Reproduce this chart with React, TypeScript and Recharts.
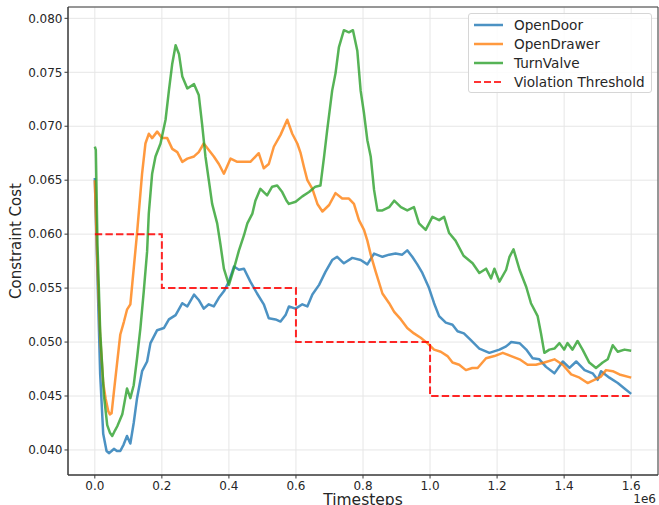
import {
  CartesianGrid,
  Customized,
  Legend,
  Line,
  LineChart,
  ReferenceArea,
  XAxis,
  YAxis
} from "recharts";

// timesteps in millions (axis carries the 1e6 offset label), constraint cost
const openDoor: [number, number][] = [
  [0, 0.0652], [0.008, 0.056], [0.016, 0.047], [0.025, 0.0415], [0.035, 0.0399],
  [0.042, 0.0397], [0.05, 0.0399], [0.057, 0.0401], [0.066, 0.0399], [0.076, 0.0399],
  [0.086, 0.0405], [0.096, 0.0413], [0.106, 0.0406], [0.116, 0.0425], [0.126, 0.0448],
  [0.141, 0.0473], [0.156, 0.0482], [0.166, 0.0499], [0.176, 0.0505], [0.186, 0.0511],
  [0.206, 0.0513], [0.221, 0.0521], [0.241, 0.0525], [0.261, 0.0536], [0.276, 0.0533],
  [0.296, 0.0544], [0.31, 0.0539], [0.325, 0.0531], [0.34, 0.0535], [0.355, 0.0533],
  [0.37, 0.0541], [0.385, 0.0547], [0.4, 0.0556], [0.415, 0.057], [0.43, 0.0567],
  [0.445, 0.0568], [0.464, 0.0556], [0.484, 0.0545], [0.504, 0.0535], [0.519, 0.0522],
  [0.539, 0.0521], [0.554, 0.0519], [0.569, 0.0525], [0.579, 0.0533], [0.599, 0.0531],
  [0.619, 0.0535], [0.634, 0.0533], [0.649, 0.0544], [0.669, 0.0553], [0.688, 0.0565],
  [0.708, 0.0576], [0.723, 0.0579], [0.743, 0.0573], [0.768, 0.0578], [0.793, 0.0576],
  [0.813, 0.0572], [0.833, 0.0582], [0.858, 0.0579], [0.878, 0.0581], [0.897, 0.0582],
  [0.917, 0.0581], [0.932, 0.0585], [0.947, 0.0579], [0.962, 0.0572], [0.977, 0.0564],
  [0.997, 0.055], [1.012, 0.0536], [1.027, 0.0524], [1.047, 0.0518], [1.067, 0.0516],
  [1.082, 0.051], [1.101, 0.0508], [1.121, 0.0502], [1.147, 0.0494], [1.177, 0.049],
  [1.207, 0.0493], [1.227, 0.0496], [1.242, 0.05], [1.267, 0.0499], [1.287, 0.0493],
  [1.306, 0.0485], [1.326, 0.0484], [1.346, 0.0477], [1.371, 0.0471], [1.396, 0.0482],
  [1.416, 0.0476], [1.436, 0.0482], [1.461, 0.0474], [1.485, 0.0471], [1.5, 0.0465],
  [1.51, 0.0473], [1.535, 0.0467], [1.56, 0.0462], [1.58, 0.0457], [1.6, 0.0452]
];

const openDrawer: [number, number][] = [
  [0, 0.065], [0.008, 0.057], [0.016, 0.0505], [0.025, 0.0462], [0.032, 0.0448],
  [0.04, 0.0436], [0.045, 0.0433], [0.05, 0.0434], [0.057, 0.0454], [0.067, 0.0482],
  [0.076, 0.0507], [0.087, 0.0519], [0.096, 0.053], [0.106, 0.0535], [0.116, 0.0568],
  [0.126, 0.0601], [0.141, 0.0656], [0.151, 0.0684], [0.161, 0.0693], [0.171, 0.0689],
  [0.186, 0.0695], [0.201, 0.0689], [0.216, 0.0689], [0.231, 0.0679], [0.246, 0.0676],
  [0.261, 0.0667], [0.276, 0.067], [0.296, 0.0672], [0.31, 0.0676], [0.325, 0.0684],
  [0.34, 0.0678], [0.355, 0.0672], [0.37, 0.0665], [0.385, 0.0656], [0.405, 0.067],
  [0.425, 0.0667], [0.445, 0.0667], [0.464, 0.0667], [0.489, 0.0675], [0.504, 0.0661],
  [0.519, 0.0665], [0.534, 0.0681], [0.554, 0.0692], [0.574, 0.0706], [0.589, 0.0693],
  [0.604, 0.0684], [0.614, 0.0675], [0.624, 0.0662], [0.634, 0.065], [0.649, 0.0642],
  [0.664, 0.0628], [0.679, 0.0621], [0.699, 0.0627], [0.718, 0.0638], [0.738, 0.0633],
  [0.758, 0.0633], [0.773, 0.0628], [0.788, 0.0613], [0.803, 0.0604], [0.813, 0.0594],
  [0.823, 0.0581], [0.838, 0.0565], [0.858, 0.0545], [0.878, 0.0536], [0.893, 0.0528],
  [0.913, 0.0521], [0.932, 0.0513], [0.952, 0.0508], [0.972, 0.0504], [0.992, 0.0499],
  [1.012, 0.0493], [1.032, 0.0491], [1.052, 0.0487], [1.067, 0.0481], [1.087, 0.0479],
  [1.107, 0.0474], [1.126, 0.0476], [1.142, 0.0476], [1.167, 0.0485], [1.192, 0.0487],
  [1.217, 0.049], [1.242, 0.0487], [1.267, 0.0484], [1.291, 0.0479], [1.316, 0.0479],
  [1.341, 0.0481], [1.371, 0.0484], [1.396, 0.0479], [1.421, 0.047], [1.446, 0.0467],
  [1.47, 0.0462], [1.49, 0.0465], [1.51, 0.0468], [1.525, 0.0474], [1.545, 0.0473],
  [1.565, 0.047], [1.6, 0.0467]
];

const turnValve: [number, number][] = [
  [0, 0.0681], [0.003, 0.0678], [0.008, 0.059], [0.016, 0.051], [0.027, 0.0451],
  [0.037, 0.0423], [0.045, 0.0416], [0.052, 0.0413], [0.06, 0.0418], [0.067, 0.0422],
  [0.082, 0.0433], [0.096, 0.0457], [0.106, 0.0448], [0.116, 0.046], [0.126, 0.0485],
  [0.136, 0.0513], [0.146, 0.0547], [0.156, 0.0584], [0.161, 0.0619], [0.171, 0.0656],
  [0.181, 0.0672], [0.196, 0.0684], [0.211, 0.0706], [0.221, 0.0733], [0.231, 0.0758],
  [0.241, 0.0775], [0.251, 0.0767], [0.261, 0.0746], [0.276, 0.0735], [0.296, 0.0739],
  [0.31, 0.0729], [0.32, 0.0702], [0.33, 0.0672], [0.34, 0.065], [0.35, 0.0628],
  [0.365, 0.061], [0.375, 0.059], [0.385, 0.0568], [0.4, 0.0553], [0.415, 0.0568],
  [0.43, 0.0585], [0.445, 0.0599], [0.455, 0.061], [0.47, 0.0619], [0.479, 0.0631],
  [0.494, 0.0642], [0.514, 0.0636], [0.529, 0.0644], [0.544, 0.0645], [0.559, 0.0639],
  [0.572, 0.0631], [0.579, 0.0628], [0.599, 0.063], [0.619, 0.0635], [0.639, 0.0639],
  [0.658, 0.0644], [0.673, 0.0645], [0.684, 0.0672], [0.693, 0.0696], [0.708, 0.0733],
  [0.718, 0.0749], [0.728, 0.0773], [0.743, 0.0789], [0.758, 0.0787], [0.77, 0.0789],
  [0.783, 0.077], [0.793, 0.0733], [0.803, 0.0712], [0.813, 0.0687], [0.823, 0.0672],
  [0.833, 0.0641], [0.843, 0.0622], [0.858, 0.0622], [0.878, 0.0625], [0.893, 0.0631],
  [0.913, 0.0625], [0.932, 0.0622], [0.952, 0.0625], [0.967, 0.061], [0.987, 0.0604],
  [1.007, 0.0616], [1.027, 0.0613], [1.042, 0.0616], [1.057, 0.0601], [1.076, 0.0594],
  [1.1, 0.058], [1.127, 0.0573], [1.147, 0.0564], [1.167, 0.0568], [1.182, 0.0559],
  [1.192, 0.0568], [1.207, 0.0556], [1.227, 0.0567], [1.237, 0.0579], [1.249, 0.0586],
  [1.267, 0.0567], [1.287, 0.0551], [1.301, 0.0536], [1.321, 0.0524], [1.331, 0.0508],
  [1.341, 0.049], [1.356, 0.0493], [1.371, 0.0494], [1.386, 0.0499], [1.4, 0.0493],
  [1.41, 0.0499], [1.425, 0.0493], [1.44, 0.0501], [1.455, 0.0493], [1.475, 0.0481],
  [1.495, 0.0476], [1.515, 0.0481], [1.53, 0.0484], [1.545, 0.0497], [1.56, 0.0491],
  [1.58, 0.0493], [1.6, 0.0492]
];

const thresholdSteps = [0, 0.2, 0.6, 1.0, 1.6];
const thresholdValues = [0.06, 0.055, 0.05, 0.045, 0.045];

const xTicks = [0, 0.2, 0.4, 0.6, 0.8, 1.0, 1.2, 1.4, 1.6];
const yTicks = [0.04, 0.045, 0.05, 0.055, 0.06, 0.065, 0.07, 0.075, 0.08];
const xDomain: [number, number] = [-0.08, 1.68];
const yDomain: [number, number] = [0.03768, 0.08105];

const FONT = "'DejaVu Sans', sans-serif";
const TEXT = "#262626";

const toRows = (pts: [number, number][]) => pts.map(([step, cost]) => ({ step, cost }));
const thresholdRows = thresholdSteps.map((step, i) => ({ step, cost: thresholdValues[i] }));

const legendItems = [
  { name: "OpenDoor", color: "#1f77b4", dash: undefined },
  { name: "OpenDrawer", color: "#ff7f0e", dash: undefined },
  { name: "TurnValve", color: "#2ca02c", dash: undefined },
  { name: "Violation Threshold", color: "#ff0000", dash: "7 3" }
];

function LegendBox() {
  return (
    <div
      style={{
        border: "1px solid #d6d6d6",
        borderRadius: 3,
        background: "rgba(255,255,255,0.85)",
        padding: "1px 6px 1px 5px",
        fontFamily: FONT,
        fontSize: 13.6,
        color: TEXT,
        boxSizing: "border-box",
        width: 184
      }}
    >
      {legendItems.map((it) => (
        <div key={it.name} style={{ display: "flex", alignItems: "center", height: 19 }}>
          <svg width={40} height={10} style={{ flex: "none" }}>
            <line
              x1={0}
              x2={29}
              y1={5}
              y2={5}
              stroke={it.color}
              strokeOpacity={0.8}
              strokeWidth={it.dash ? 2 : 2.5}
              strokeDasharray={it.dash}
            />
          </svg>
          <span style={{ whiteSpace: "nowrap" }}>{it.name}</span>
        </div>
      ))}
    </div>
  );
}

function AxisTexts() {
  return (
    <g fontFamily={FONT} fill={TEXT}>
      <text x={16} y={241} fontSize={15} textAnchor="middle" dominantBaseline="central" transform="rotate(-90 16 241)">
        Constraint Cost
      </text>
      <text x={363} y={505} fontSize={15.5} textAnchor="middle">
        Timesteps
      </text>
      <text x={656} y={503} fontSize={12} textAnchor="end">
        1e6
      </text>
    </g>
  );
}

export default function App() {
  return (
    <div style={{ position: "absolute", left: 0, top: 0, background: "#fff" }}>
      <LineChart width={659} height={505} margin={{ top: 7, right: 1, bottom: 0, left: 0 }} style={{ fontFamily: FONT }}>
        <CartesianGrid stroke="#e6e6e6" strokeWidth={1} />
        <XAxis
          type="number"
          dataKey="step"
          domain={xDomain}
          ticks={xTicks}
          allowDataOverflow
          height={30}
          tickFormatter={(v: number) => v.toFixed(1)}
          tick={{ fill: TEXT, fontSize: 12, fontFamily: FONT }}
          tickSize={3.5}
          tickMargin={3}
          stroke="#3a3a3a"
        />
        <YAxis
          type="number"
          domain={yDomain}
          ticks={yTicks}
          allowDataOverflow
          width={68}
          tickFormatter={(v: number) => v.toFixed(3)}
          tick={{ fill: TEXT, fontSize: 12, fontFamily: FONT }}
          tickSize={3.5}
          tickMargin={2}
          stroke="#3a3a3a"
        />
        <Line
          data={toRows(openDoor)}
          dataKey="cost"
          name="OpenDoor"
          stroke="#1f77b4"
          strokeOpacity={0.8}
          strokeWidth={2.5}
          strokeLinejoin="round"
          dot={false}
          type="linear"
          isAnimationActive={false}
        />
        <Line
          data={toRows(openDrawer)}
          dataKey="cost"
          name="OpenDrawer"
          stroke="#ff7f0e"
          strokeOpacity={0.8}
          strokeWidth={2.5}
          strokeLinejoin="round"
          dot={false}
          type="linear"
          isAnimationActive={false}
        />
        <Line
          data={toRows(turnValve)}
          dataKey="cost"
          name="TurnValve"
          stroke="#2ca02c"
          strokeOpacity={0.8}
          strokeWidth={2.5}
          strokeLinejoin="round"
          dot={false}
          type="linear"
          isAnimationActive={false}
        />
        <Line
          data={thresholdRows}
          dataKey="cost"
          name="Violation Threshold"
          stroke="#ff0000"
          strokeOpacity={0.85}
          strokeWidth={2}
          strokeDasharray="7.4 3.2"
          dot={false}
          type="stepAfter"
          isAnimationActive={false}
        />
        <ReferenceArea
          x1={xDomain[0]}
          x2={xDomain[1]}
          y1={yDomain[0]}
          y2={yDomain[1]}
          fill="none"
          stroke="#3a3a3a"
          strokeWidth={1}
          ifOverflow="visible"
        />
        <Legend
          layout="horizontal"
          verticalAlign="middle"
          align="center"
          content={() => <LegendBox />}
          wrapperStyle={{ left: 468, top: 13, width: 184, height: 80 }}
        />
        <Customized component={AxisTexts} />
      </LineChart>
    </div>
  );
}
